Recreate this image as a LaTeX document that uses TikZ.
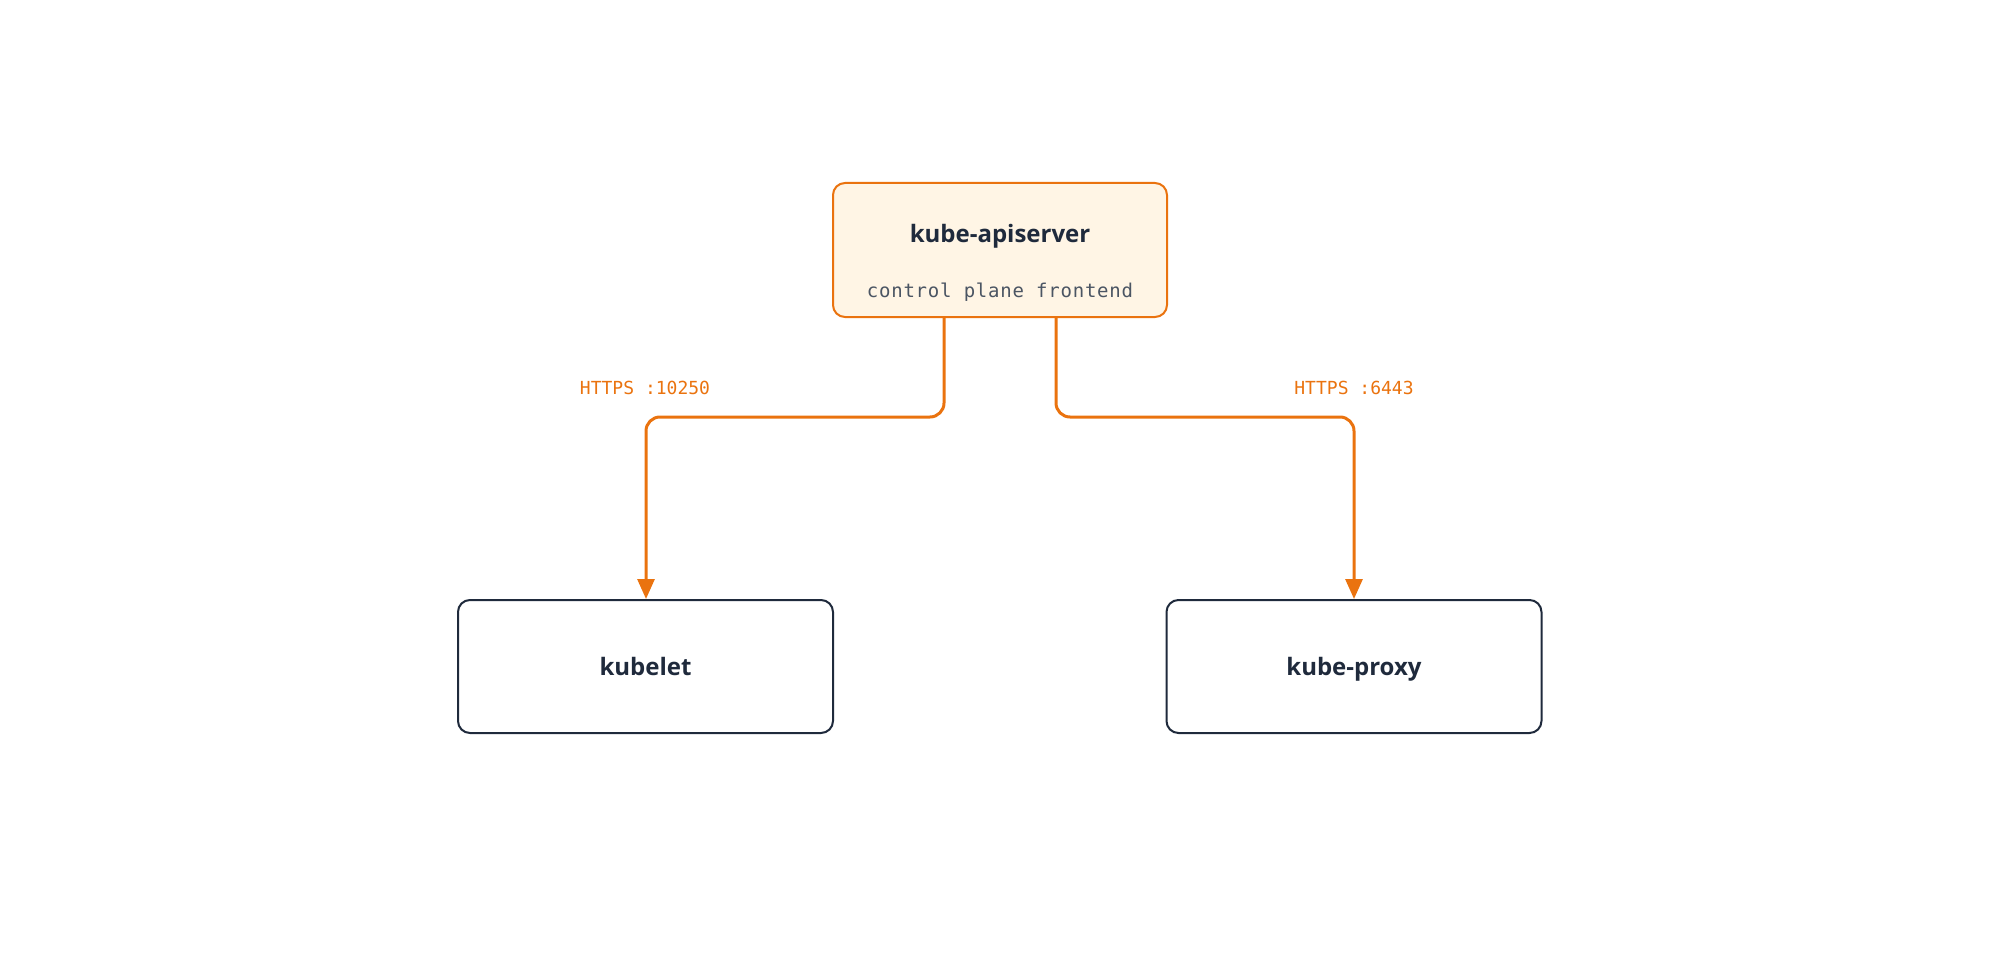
\documentclass[tikz,border=0pt]{standalone}
\usepackage{fontspec}
\setmainfont{Open Sans}
\newfontfamily\monof{DejaVu Sans Mono}
\newfontfamily\monosp[LetterSpace=4]{DejaVu Sans Mono}
\usetikzlibrary{arrows.meta}
\definecolor{orng}{HTML}{EA730F}
\definecolor{fillo}{HTML}{FFF5E5}
\definecolor{ink}{HTML}{1F2A3C}
\definecolor{grayt}{HTML}{4B5563}
\tikzset{
  box/.style={draw=ink, line width=2pt, rounded corners=12pt, minimum width=375pt, minimum height=133pt, inner sep=0pt},
  hubbox/.style={draw=orng, fill=fillo, line width=2pt, rounded corners=12pt, minimum width=334pt, minimum height=134pt, inner sep=0pt},
  ttl/.style={font=\fontsize{24}{28}\selectfont\bfseries, text=ink, anchor=base},
  sub/.style={font=\monosp\fontsize{19}{22}\selectfont, text=grayt, anchor=base},
  lbl/.style={font=\monof\fontsize{18}{21}\selectfont, text=orng, anchor=base},
  conn/.style={draw=orng, line width=3pt, rounded corners=14pt, -{Triangle[length=20pt,width=17pt]}}
}
\begin{document}
\begin{tikzpicture}[x=1pt,y=-1pt]
\useasboundingbox (0,0) rectangle (2000,960);
\node[hubbox] (api) at (1000,250) {};
\node[ttl] (apit) at (1000,243) {kube-apiserver};
\node[sub] (apis) at (1000,297) {control plane frontend};
\node[box] (kl) at (645.5,666.5) {};
\node[ttl] (klt) at (645.5,675) {kubelet};
\node[box] (kp) at (1354,666.5) {};
\node[ttl] (kpt) at (1354,675) {kube-proxy};
\coordinate (s1) at (944,317);
\coordinate (s2) at (1056,317);
\draw[conn] (s1) -- (944,417) -- (646,417) -- (kl.north -| 646,0);
\draw[conn] (s2) -- (1056,417) -- (1354,417) -- (kp.north);
\node[lbl] (l1) at (645,394) {HTTPS :10250};
\node[lbl] (l2) at (1354,394) {HTTPS :6443};
\end{tikzpicture}
\end{document}
